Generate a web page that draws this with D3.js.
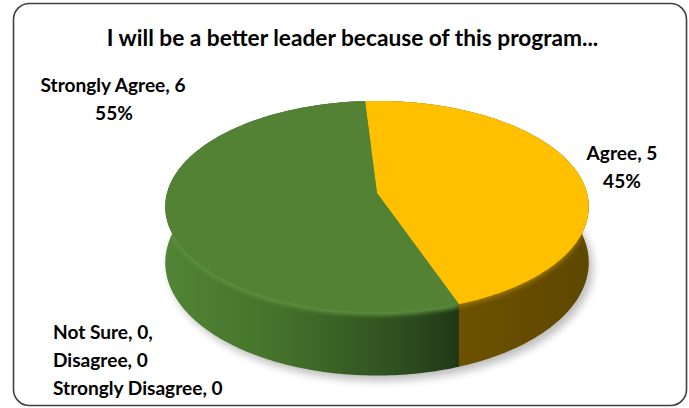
<!DOCTYPE html>
<html><head><meta charset="utf-8">
<script src="https://cdn.jsdelivr.net/npm/d3@7"></script>
<style>html,body{margin:0;padding:0;background:#fff;overflow:hidden}</style>
</head><body>
<svg id="c" width="689" height="408"></svg>
<script>
// ---- data ----
const title = "I will be a better leader because of this program...";
const categories = ["Strongly Disagree", "Disagree", "Not Sure", "Agree", "Strongly Agree"];
const counts = [0, 0, 0, 5, 6];
const zeroLabelOrder = ["Not Sure", "Disagree", "Strongly Disagree"];

// ---- styles ----
const topColor = d3.scaleOrdinal().domain(categories)
  .range(["#A5A5A5", "#ED7D31", "#4472C4", "#FFC000", "#548235"]);
const FONT = "Lato, 'Open Sans', sans-serif";

const svg = d3.select("#c");
const defs = svg.append("defs");

// frame
svg.append("rect").attr("x", 13.5).attr("y", 3.5).attr("width", 673).attr("height", 402)
  .attr("rx", 16).attr("fill", "#fff").attr("stroke", "#404040").attr("stroke-width", 1.6);

// ---- 3D pie geometry (perspective projection of a disk) ----
const cx = 377, cy = 193, a = 210, b = 104, k = 0.129, h = 55;
const rot = -3.7 * Math.PI / 180;
function P(theta, level) {
  const X = Math.sin(theta), Z = -Math.cos(theta);
  const s = 1 / (1 - k * Z);
  return [cx + a * X * s, cy + b * Z * s + level * h * s];
}
function arcPts(t0, t1, level) {
  const n = Math.max(2, Math.ceil(Math.abs(t1 - t0) / (Math.PI / 180)));
  return d3.range(n + 1).map(i => P(t0 + (t1 - t0) * i / n, level));
}
const line = d3.line();

const total = d3.sum(counts);
const pie = d3.pie().sort(null).startAngle(rot).endAngle(rot + 2 * Math.PI);
const arcs = pie(counts).map((d, i) => ({...d, cat: categories[i]})).filter(d => d.value > 0);

// filters
const fShadow = defs.append("filter").attr("id", "shadow").attr("x", "-20%").attr("y", "-20%").attr("width", "140%").attr("height", "140%");
fShadow.append("feGaussianBlur").attr("stdDeviation", 4);
const fBevel = defs.append("filter").attr("id", "bevel").attr("x", "-10%").attr("y", "-10%").attr("width", "120%").attr("height", "120%");
fBevel.append("feGaussianBlur").attr("stdDeviation", 2.2);

// wall gradients
const wallStops = {
  "Strongly Agree": {x1: 163, x2: 462, stops: [[0, "#528535"], [0.4, "#44712b"], [0.8, "#2d4e1f"], [1, "#1f3616"]]},
  "Agree": {x1: 460, x2: 590, stops: [[0, "#6c5100"], [1, "#5e4700"]]}
};
arcs.forEach((d, i) => {
  const g = wallStops[d.cat];
  const lg = defs.append("linearGradient").attr("id", "wall" + i)
    .attr("gradientUnits", "userSpaceOnUse").attr("x1", g.x1).attr("x2", g.x2).attr("y1", 0).attr("y2", 0);
  g.stops.forEach(s => lg.append("stop").attr("offset", s[0]).attr("stop-color", s[1]));
});

const bottomRing = arcPts(0, 2 * Math.PI, 1);
const topRing = arcPts(0, 2 * Math.PI, 0);
const wallPath = d => line(arcPts(d.startAngle, d.endAngle, 0).concat(arcPts(d.endAngle, d.startAngle, 1))) + "Z";
const topPath = d => line([[cx, cy]].concat(arcPts(d.startAngle, d.endAngle, 0))) + "Z";

// shadow
svg.append("path").attr("d", line(bottomRing) + "Z").attr("transform", "translate(4,5)")
  .attr("fill", "#000").attr("opacity", 0.26).attr("filter", "url(#shadow)");

const clip = defs.append("clipPath").attr("id", "pieclip");
arcs.forEach(d => clip.append("path").attr("d", wallPath(d)));
clip.append("path").attr("d", line(topRing) + "Z");

const pieG = svg.append("g");
pieG.selectAll("path.wall").data(arcs).join("path").attr("class", "wall")
  .attr("d", wallPath).attr("fill", (d, i) => `url(#wall${i})`);
const bevelG = pieG.append("g").attr("clip-path", "url(#pieclip)");
bevelG.selectAll("path").data(arcs).join("path")
  .attr("d", topPath).attr("transform", "translate(0,3)")
  .attr("fill", d => d.cat === "Agree" ? "#9a7400" : "#5f9140").attr("filter", "url(#bevel)");
pieG.selectAll("path.top").data(arcs).join("path").attr("class", "top")
  .attr("d", topPath).attr("fill", d => topColor(d.cat));

// ---- text ----
function txt(str, x, y, size, anchor) {
  return svg.append("text").attr("x", x).attr("y", y).attr("font-family", FONT)
    .attr("font-weight", 700).attr("font-size", size).attr("text-anchor", anchor)
    .attr("fill", "#000").text(str);
}
txt(title, 352.5, 46, 22.7, "middle");

const pct = d3.format(".0%");
const byCat = Object.fromEntries(categories.map((c, i) => [c, counts[i]]));
const LS = 19.1;
txt(`Strongly Agree, ${byCat["Strongly Agree"]}`, 113, 92, LS, "middle");
txt(pct(byCat["Strongly Agree"] / total), 114, 120, LS, "middle");
txt(`Agree, ${byCat["Agree"]}`, 622, 160, LS, "middle");
txt(pct(byCat["Agree"] / total), 622, 188, LS, "middle");
zeroLabelOrder.forEach((c, i) => {
  const s = `${c}, ${byCat[c]}` + (i === 0 ? "," : "");
  txt(s, 53, 339 + i * 28, LS, "start");
});
</script>
</body></html>
